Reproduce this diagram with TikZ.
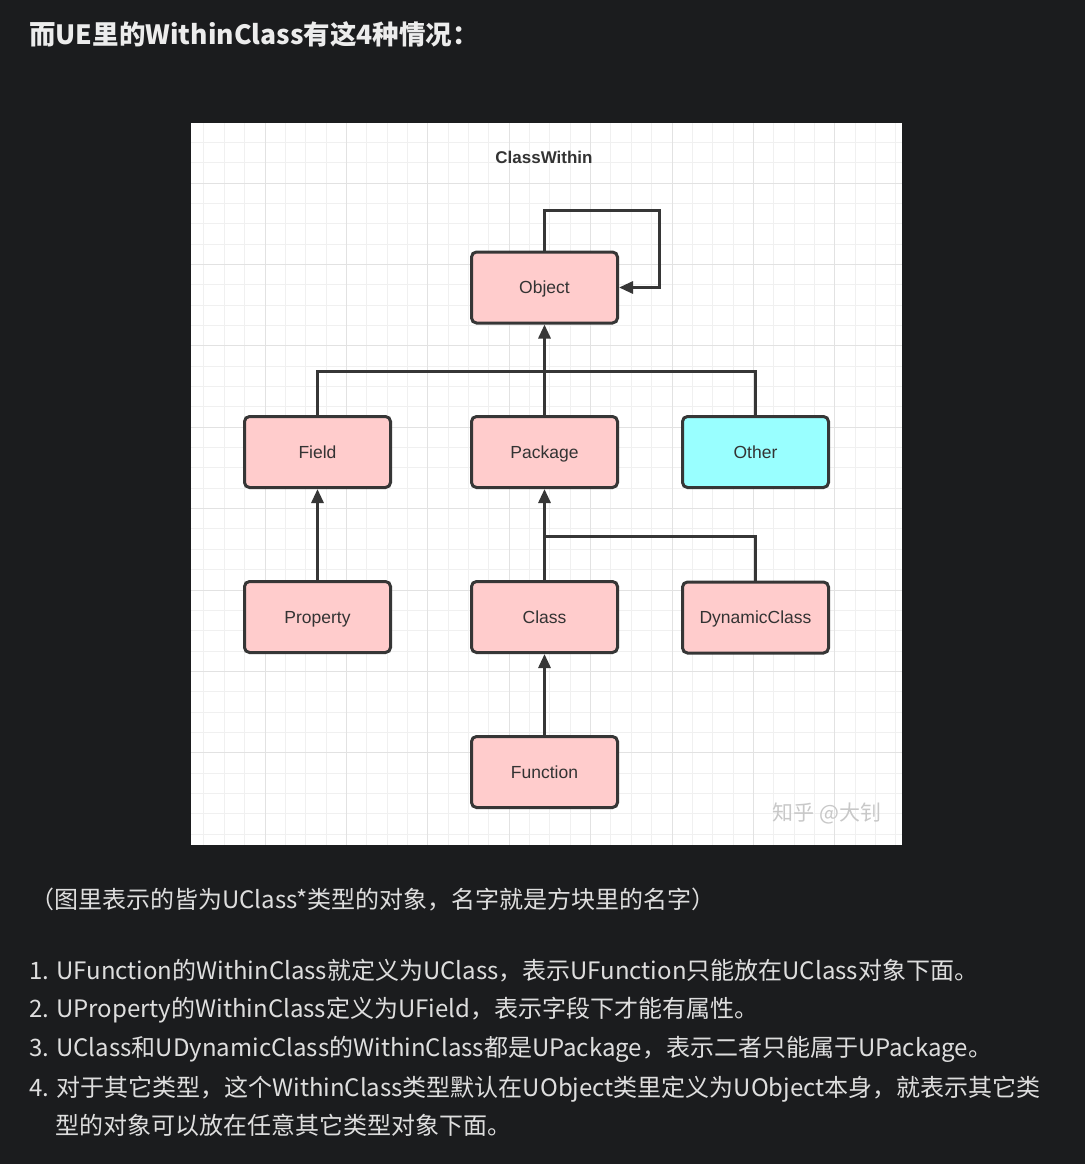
\documentclass[tikz,border=0pt]{standalone}
\usepackage{fontspec}
\setmainfont{Liberation Sans}
\newfontfamily\cjk{Noto Sans CJK SC}
\usetikzlibrary{arrows.meta}
\definecolor{bg}{RGB}{27,28,30}
\definecolor{txt}{RGB}{222,222,222}
\definecolor{titlec}{RGB}{236,236,236}
\definecolor{gridminor}{RGB}{240,240,240}
\definecolor{gridmajor}{RGB}{226,226,226}
\definecolor{pinkfill}{RGB}{255,204,204}
\definecolor{cyanfill}{RGB}{153,255,255}
\definecolor{boxline}{RGB}{54,54,54}
\definecolor{labelc}{RGB}{51,51,51}
\definecolor{wm}{RGB}{200,200,200}
\begin{document}
\begin{tikzpicture}[x=1pt,y=-1pt,
  box/.style={draw=boxline, line width=3pt, rounded corners=5pt, fill=pinkfill,
    minimum width=146pt, minimum height=71pt, inner sep=0pt,
    text height=12pt, text depth=0pt,
    font=\fontsize{17.5}{20}\selectfont, text=labelc},
  conn/.style={draw=boxline, line width=3pt},
  arr/.style={conn, -{Triangle[length=14pt,width=12pt]}},
  body/.style={anchor=base west, inner sep=0pt, text=txt, font=\cjk\fontsize{24}{28}\selectfont}]
% background
\fill[bg] (0,0) rectangle (1085,1164);
\useasboundingbox (0,0) rectangle (1085,1164);
% panel
\fill[white] (191,123) rectangle (902,845);
\begin{scope}
\clip (191,123) rectangle (902,845);
\foreach \k in {-3,...,31} {
  \draw[gridminor, line width=1pt] ({265+20.35*\k},123) -- ({265+20.35*\k},845);
}
\foreach \k in {-2,...,32} {
  \draw[gridminor, line width=1pt] (191,{183+20.35*\k}) -- (902,{183+20.35*\k});
}
\foreach \k in {-1,...,7} {
  \draw[gridmajor, line width=1pt] ({265+81.4*\k},123) -- ({265+81.4*\k},845);
  \draw[gridmajor, line width=1pt] (191,{183+81.4*\k}) -- (902,{183+81.4*\k});
}
\end{scope}
% title inside panel
\node[font=\bfseries\fontsize{17}{20}\selectfont, text=labelc] (cw) at (544,157) {ClassWithin};
% junctions
\coordinate (j1) at (544.5,371);
\coordinate (j2) at (544.5,536);
\coordinate (loop) at (659,210);
% boxes
\node[box] (object) at (544.5,287.5) {Object};
\node[box] (field) at (317.5,452) {Field};
\node[box] (package) at (544.5,452) {Package};
\node[box, fill=cyanfill] (other) at (755.5,452) {Other};
\node[box] (property) at (317.5,617) {Property};
\node[box] (class) at (544.5,617) {Class};
\node[box] (dyn) at (755.5,617.5) {DynamicClass};
\node[box] (function) at (544.5,772) {Function};
% connectors
\draw[arr] (object.north) |- (loop) |- (object.east);
\draw[arr] (package.north) -- (object.south);
\draw[conn] (field.north) |- (j1) -| (other.north);
\draw[arr] (property.north) -- (field.south);
\draw[arr] (class.north) -- (package.south);
\draw[conn] (dyn.north) |- (j2);
\draw[arr] (function.north) -- (class.south);
% watermark
\node[inner sep=0pt, text=wm, font=\cjk\fontsize{21}{23}\selectfont] (wmark) at (827,813) {知乎 @大钊};
% texts
\node[anchor=base west, inner sep=0pt, text=titlec, font=\cjk\bfseries\fontsize{26.5}{30}\selectfont] (title) at (29,45) {而UE里的WithinClass有这4种情况：};
\node[body] (note) at (30,908) {（图里表示的皆为UClass*类型的对象，名字就是方块里的名字）};
\node[body] (l1) at (29,979) {1. UFunction的WithinClass就定义为UClass，表示UFunction只能放在UClass对象下面。};
\node[body] (l2) at (29,1017) {2. UProperty的WithinClass定义为UField，表示字段下才能有属性。};
\node[body] (l3) at (29,1056) {3. UClass和UDynamicClass的WithinClass都是UPackage，表示二者只能属于UPackage。};
\node[body] (l4) at (29,1096) {4. 对于其它类型，这个WithinClass类型默认在UObject类里定义为UObject本身，就表示其它类};
\node[body] (l5) at (55,1134) {型的对象可以放在任意其它类型对象下面。};
\end{tikzpicture}
\end{document}
